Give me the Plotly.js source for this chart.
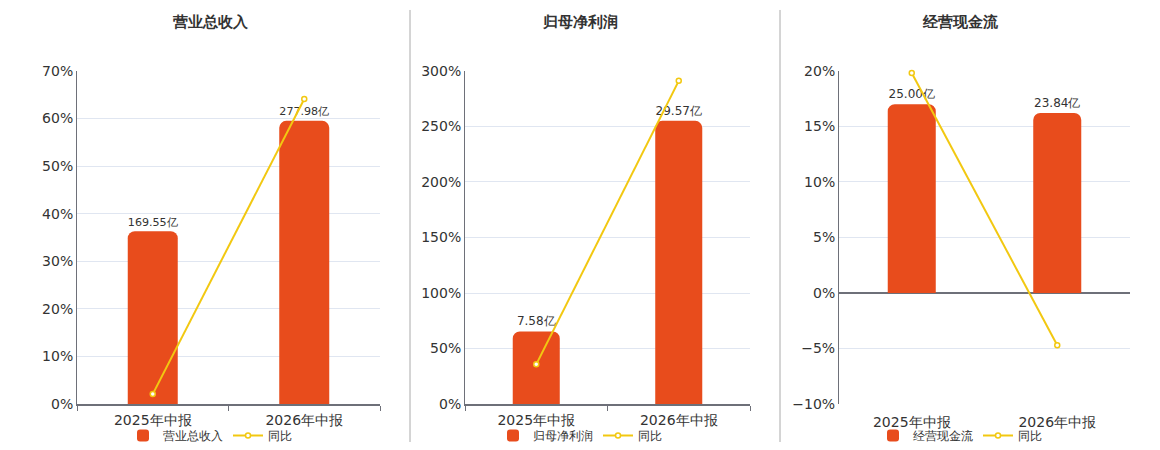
<!DOCTYPE html>
<html>
<head>
<meta charset="utf-8">
<script src="https://cdn.plot.ly/plotly-3.0.1.min.js"></script>
<style>
	html, body { margin: 0; padding: 0; background: #fff; }
	#chart { width: 1160px; height: 450px; }
</style>
</head>
<body>
<div id="chart"></div>
<script>
// chart data
const categories = ["2025年中报", "2026年中报"];
const panelTitles = ["营业总收入", "归母净利润", "经营现金流"];
const revenue = [169.55, 277.98];
const revenueYoY = [2.1, 64.1];
const profit = [7.58, 29.57];
const profitYoY = [35.8, 291];
const cashflow = [25.00, 23.84];
const cashflowYoY = [19.8, -4.7];
const pctRanges = [[0, 70], [0, 300], [-10, 20]];
const pctSteps = [10, 50, 5];

const BAR = "#e84c1c";
const LINE = "#f2c811";
const AXIS = "#6e7079";
const GRID = "#e0e6f1";
const FONT = "DejaVu Sans, sans-serif";

const panels = [
	{ bars: revenue, yoy: revenueYoY },
	{ bars: profit, yoy: profitYoY },
	{ bars: cashflow, yoy: cashflowYoY },
];

// plot area positions in px (width 1160, height 450)
const W = 1160, H = 450;
const xDomPx = [[77, 380], [465, 750], [839, 1130]];
const centersPx = [210, 580, 960];
const yDom = [1 - 405 / H, 1 - 71 / H];

// bar axis (not shown): tallest bar fills 85% of the positive part,
// zero kept level with the 0% of the percent axis
function barRange(vals, pr) {
	const top = Math.max(...vals) / 0.85;
	const negFrac = -pr[0] / pr[1];
	return [-top * negFrac, top];
}

// plotly names the first axes "x"/"y", not "x1"
const axId = (c, n) => n === 1 ? c : c + n;
const axKey = (c, n) => n === 1 ? c + "axis" : c + "axis" + n;

const data = [];
const layout = {
	width: W,
	height: H,
	margin: { l: 0, r: 0, t: 0, b: 0 },
	paper_bgcolor: "#fff",
	plot_bgcolor: "#fff",
	font: { family: FONT, color: "#333", size: 12 },
	annotations: [],
	shapes: [],
};

panels.forEach((p, i) => {
	const n = i + 1;
	const xa = axId("x", n);
	// bars sit on the main axis so the yoy line (overlay) draws on top
	const yBar = axId("y", n), yPct = "y" + (n + 3);
	const legendId = n === 1 ? "legend" : "legend" + n;

	data.push({
		type: "bar",
		x: categories,
		y: p.bars,
		xaxis: xa,
		yaxis: yBar,
		name: panelTitles[i],
		legend: legendId,
		marker: { color: BAR, cornerradius: 7 },
		width: 0.33,
		text: p.bars.map(v => v.toFixed(2) + "亿"),
		textposition: "outside",
		textfont: { size: 12, color: "#333", family: FONT },
		cliponaxis: false,
		hoverinfo: "x+text",
	});
	data.push({
		type: "scatter",
		mode: "lines+markers",
		x: categories,
		y: p.yoy,
		xaxis: xa,
		yaxis: yPct,
		name: "同比",
		legend: legendId,
		line: { color: LINE, width: 2 },
		marker: { size: 5, color: "#fff", line: { color: LINE, width: 1.5 } },
		cliponaxis: false,
	});

	const dom = [xDomPx[i][0] / W, xDomPx[i][1] / W];
	layout[axKey("x", n)] = {
		domain: dom,
		anchor: yBar,
		type: "category",
		categoryorder: "array",
		categoryarray: categories,
		range: [-0.5, 1.5],
		showline: n !== 3,
		linecolor: AXIS,
		linewidth: 1.5,
		ticks: n !== 3 ? "outside" : "",
		tickson: "boundaries",
		ticklen: 5,
		tickcolor: AXIS,
		ticklabelstandoff: n !== 3 ? 2 : 8,
		showgrid: false,
		tickfont: { size: 14, color: "#333", family: FONT },
		fixedrange: true,
	};
	layout[axKey("y", n)] = {
		domain: yDom,
		anchor: xa,
		range: barRange(p.bars, pctRanges[i]),
		showgrid: false,
		zeroline: false,
		showline: false,
		showticklabels: false,
		ticks: "",
		fixedrange: true,
	};
	layout["yaxis" + (n + 3)] = {
		overlaying: yBar,
		anchor: xa,
		side: "left",
		domain: yDom,
		range: pctRanges[i],
		dtick: pctSteps[i],
		tick0: 0,
		ticksuffix: "%",
		showline: true,
		linecolor: AXIS,
		linewidth: 1,
		showgrid: true,
		gridcolor: GRID,
		zeroline: n === 3,
		zerolinecolor: AXIS,
		zerolinewidth: 1.5,
		tickfont: { size: 14, color: "#333", family: FONT },
		fixedrange: true,
	};

	layout.annotations.push({
		text: "<b>" + panelTitles[i] + "</b>",
		xref: "paper", yref: "paper",
		x: centersPx[i] / W, y: 1 - 22 / H,
		xanchor: "center", yanchor: "middle",
		showarrow: false,
		font: { size: 15, color: "#333", family: FONT },
	});
	layout[legendId] = {
		orientation: "h",
		x: centersPx[i] / W,
		xanchor: "center",
		y: 1 - 436 / H,
		yanchor: "middle",
		bgcolor: "rgba(0,0,0,0)",
		font: { size: 12, color: "#333", family: FONT },
		itemwidth: 30,
		tracegroupgap: 0,
	};
});

// vertical separators between the panels
[410, 780].forEach(px => {
	layout.shapes.push({
		type: "line",
		xref: "paper", yref: "paper",
		x0: px / W, x1: px / W,
		y0: 1 - 443 / H, y1: 1 - 10 / H,
		line: { color: "#aaa", width: 1 },
	});
});

Plotly.newPlot("chart", data, layout, { displayModeBar: false, responsive: false });
</script>
</body>
</html>
